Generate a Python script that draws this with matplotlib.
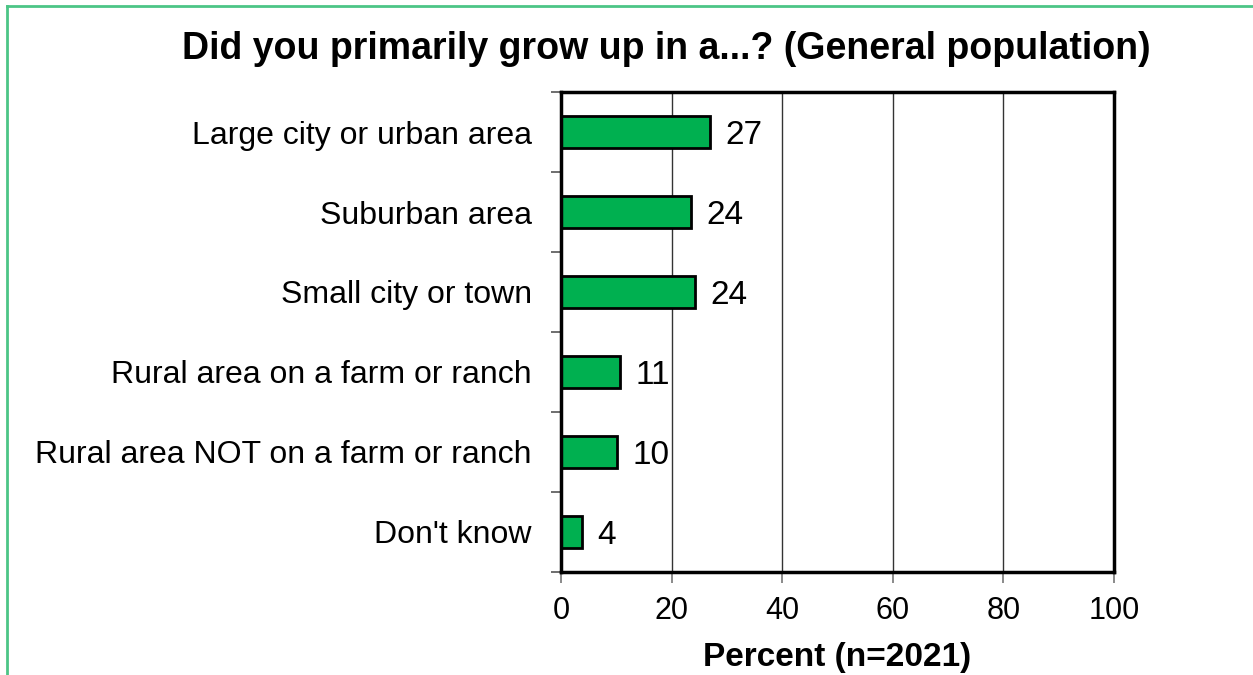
import matplotlib.pyplot as plt
from matplotlib.lines import Line2D

categories = [
    "Large city or urban area",
    "Suburban area",
    "Small city or town",
    "Rural area on a farm or ranch",
    "Rural area NOT on a farm or ranch",
    "Don't know",
]
values = [26.9, 23.5, 24.2, 10.7, 10.1, 3.8]
labels = ["27", "24", "24", "11", "10", "4"]
xticks = [0, 20, 40, 60, 80, 100]

plt.rcParams["font.family"] = ["Liberation Sans", "DejaVu Sans"]

fig = plt.figure(figsize=(12.53, 6.75), dpi=100)
ax = fig.add_axes([0.4477, 0.1526, 0.4413, 0.7111])

pos = list(range(len(categories)))
ax.barh(pos, values, height=0.41, color="#00B050", edgecolor="black",
        linewidth=2, zorder=3)
for p, v, lab in zip(pos, values, labels):
    ax.annotate(lab, (v, p), xytext=(11, 0), textcoords="offset points",
                va="center_baseline", ha="left", fontsize=24)

ax.set_ylim(len(categories) - 0.5, -0.5)
ax.set_xlim(0, 100)
ax.set_xticks(xticks)
ax.set_xticklabels([str(t) for t in xticks], fontsize=22)
ax.set_yticks(pos)
ax.set_yticklabels(categories, fontsize=23)
ax.tick_params(axis="y", length=0, pad=21)
ax.set_yticks([p - 0.5 for p in pos] + [len(pos) - 0.5], minor=True)
ax.tick_params(axis="y", which="minor", length=7, color="#555555", width=1.2)
ax.tick_params(axis="x", length=8, color="#777777", width=1.2, pad=9)
ax.xaxis.grid(True, color="#333333", linewidth=1, zorder=0)
for s in ax.spines.values():
    s.set_linewidth(2.5)
    s.set_zorder(4)

ax.set_xlabel("Percent (n=2021)", fontsize=24, fontweight="bold", labelpad=12)
fig.text(0.532, 0.928, "Did you primarily grow up in a...? (General population)",
         ha="center", va="center", fontsize=27, fontweight="bold")

# partial green frame
fig.add_artist(Line2D([7 / 1253, 7 / 1253], [0, 1 - 6 / 675],
                      transform=fig.transFigure, color="#4CC586", linewidth=2))
fig.add_artist(Line2D([7 / 1253, 1], [1 - 6 / 675, 1 - 6 / 675],
                      transform=fig.transFigure, color="#4CC586", linewidth=2))

fig.savefig("out.png", dpi=100)
